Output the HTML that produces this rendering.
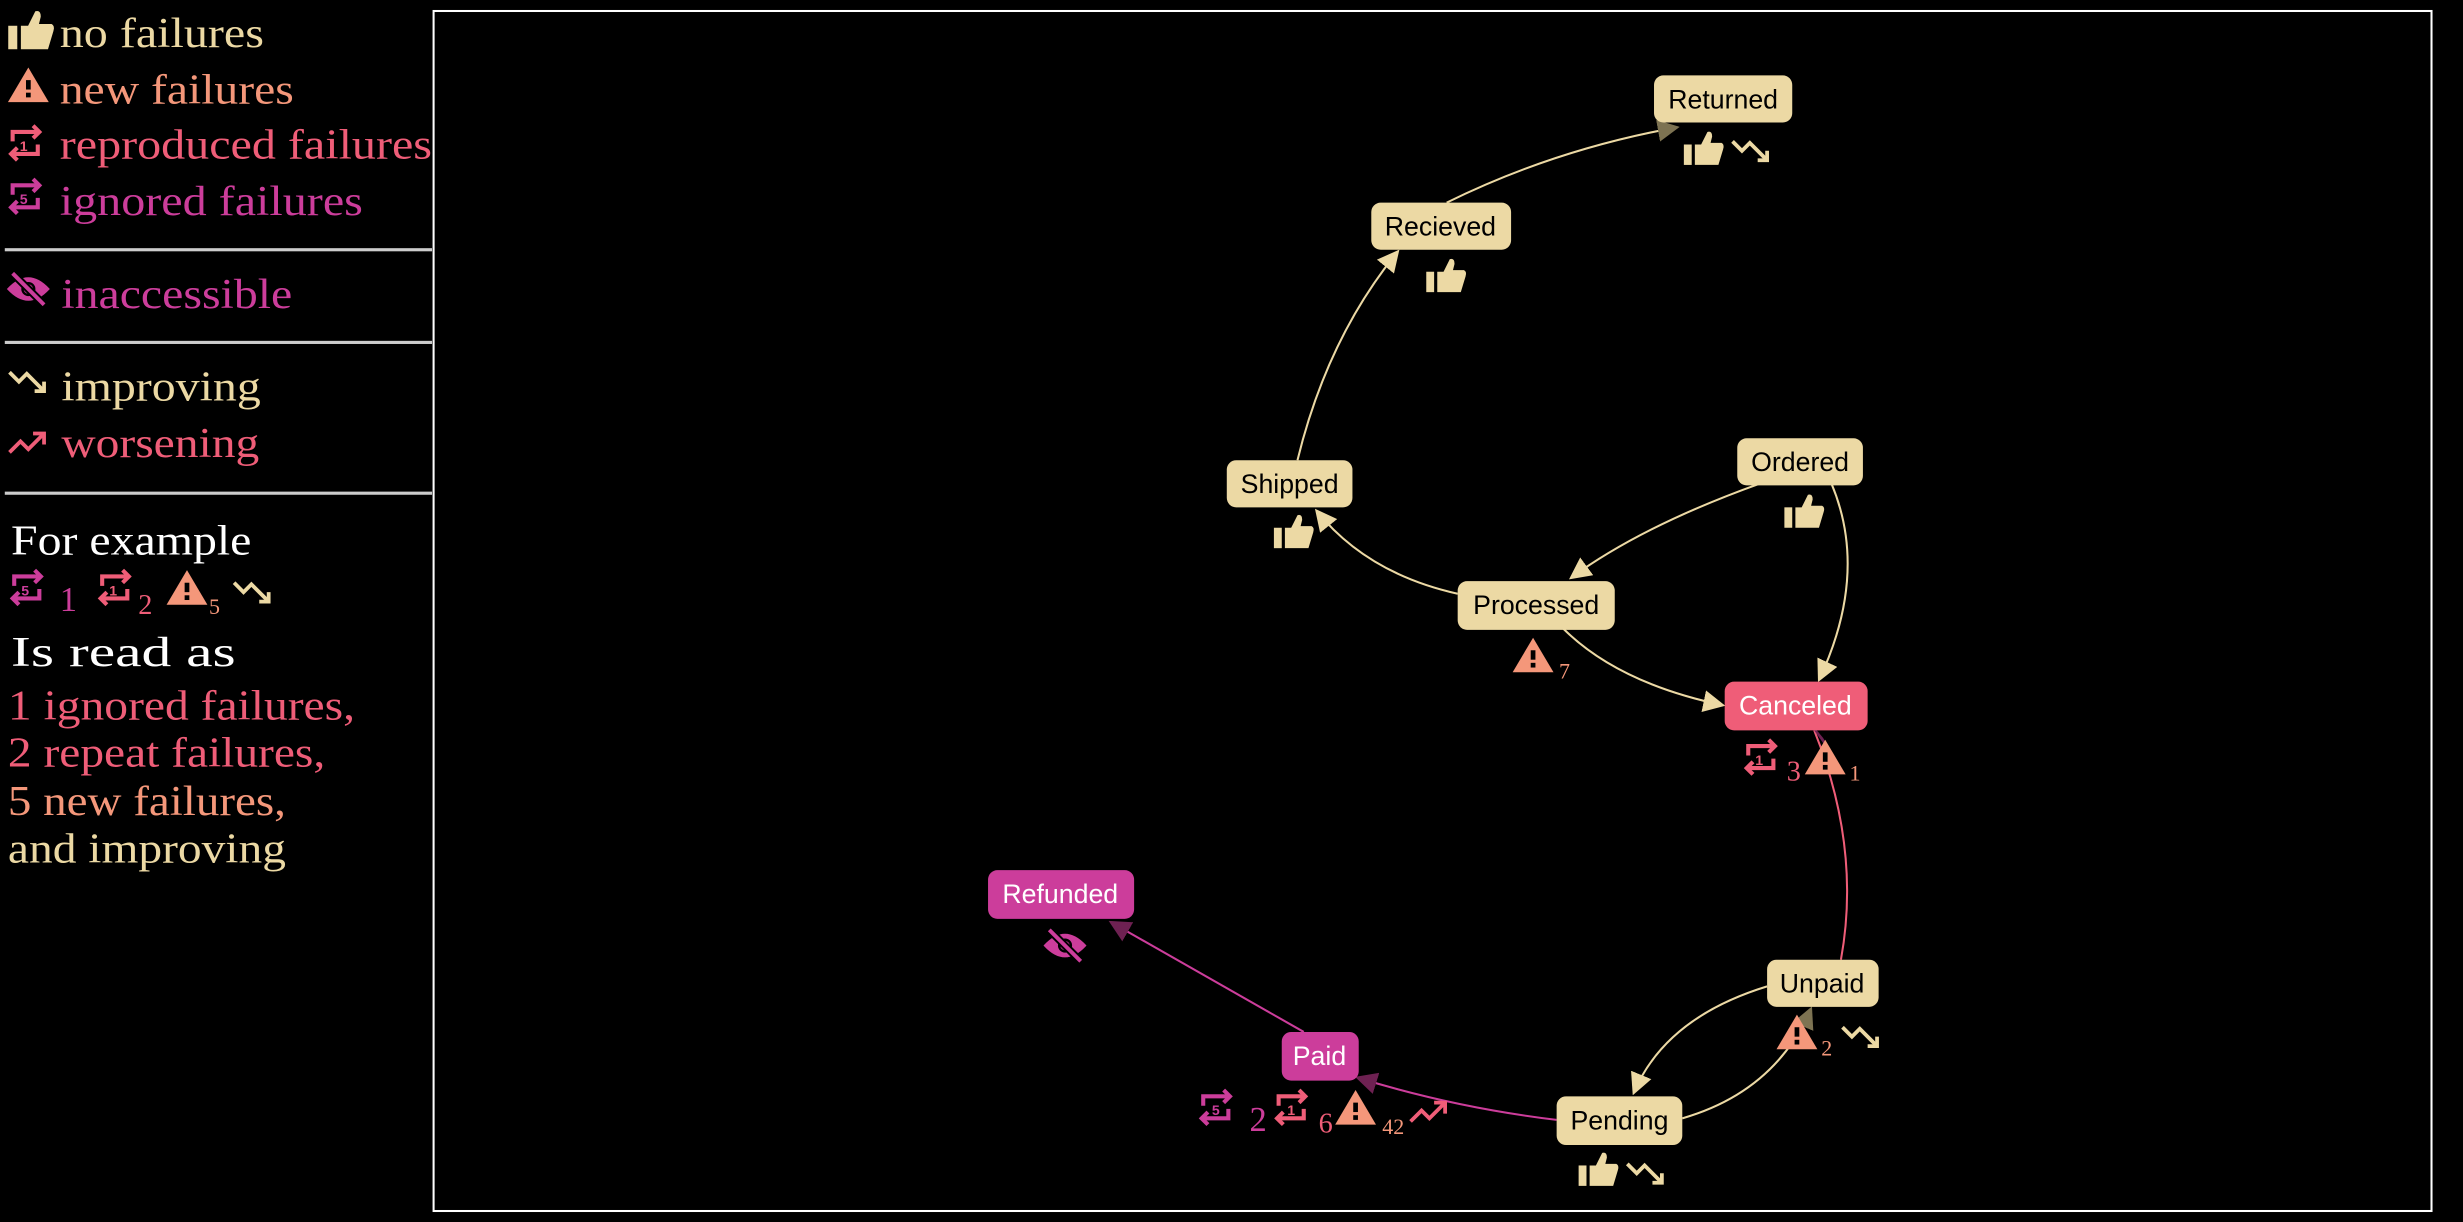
<!DOCTYPE html>
<html><head><meta charset="utf-8"><style>
html,body{margin:0;padding:0;background:#000;width:2463px;height:1222px;overflow:hidden}
svg{display:block}
.lg{font-family:"Liberation Serif",serif;font-size:27px}
.nd{font-family:"Liberation Sans",sans-serif;font-size:17px;text-anchor:middle}
.num{font-family:"Liberation Serif",serif}
</style></head><body>
<svg width="2463" height="1222" viewBox="0 0 1568 778" xmlns="http://www.w3.org/2000/svg">
<defs>
<g id="thumb"><rect x="-12" y="-4" width="5" height="13"/><path d="M-5,-4 L-1,-4 L3,-12 Q6,-13 6,-9 L5,-5 L12,-5 Q14,-4 13,-1 L10,9 L-5,9 Z"/></g>
<g id="warn"><path d="M0,-12 L13,10 L-13,10 Z"/><rect x="-1.5" y="-4" width="3" height="6" fill="#000"/><rect x="-1.5" y="4" width="3" height="3" fill="#000"/></g>
<g id="rep" fill="none" stroke-width="2.6"><path d="M-8,0 L-8,-6 L8,-6"/><path d="M5,-10 L9,-6 L5,-2"/><path d="M8,2 L8,8 L-8,8"/><path d="M-5,4 L-9,8 L-5,12"/></g>
<g id="imp" fill="none" stroke-width="2.4"><path d="M-12,-6 L-6,0 L-1,-5 L9,5"/><path d="M4,6 L10,6 L10,0"/></g>
<g id="wor" fill="none" stroke-width="2.4"><path d="M-12,6 L-5,-1 L0,4 L9,-5"/><path d="M3,-6 L10,-6 L10,1"/></g>
<g id="eye"><path d="M-13,0 Q0,-14 13,0 Q0,14 -13,0 Z"/><circle r="5" fill="#000"/><circle r="2.5"/><path d="M-10,-10 L10,10" stroke="#000" stroke-width="5"/><path d="M-10,-10 L10,10" stroke-width="2.5"/></g>
<marker id="ab" viewBox="0 0 10 10" refX="9" refY="5" markerWidth="14" markerHeight="14" markerUnits="userSpaceOnUse" orient="auto"><path d="M0,0 L10,5 L0,10 Z" fill="#ecd9a4"/></marker>
<marker id="ad" viewBox="0 0 10 10" refX="9" refY="5" markerWidth="14" markerHeight="14" markerUnits="userSpaceOnUse" orient="auto"><path d="M0,0 L10,5 L0,10 Z" fill="#7d7352"/></marker>
<marker id="am" viewBox="0 0 10 10" refX="9" refY="5" markerWidth="14" markerHeight="14" markerUnits="userSpaceOnUse" orient="auto"><path d="M0,0 L10,5 L0,10 Z" fill="#6e2152"/></marker>
</defs>

<!-- legend -->
<g class="lg" lengthAdjust="spacingAndGlyphs">
<use href="#thumb" x="19" y="21" fill="#ecd9a4" transform="translate(19,21) scale(1.15) translate(-19,-21)"/><text x="38" y="30" fill="#ecd9a4" textLength="130" lengthAdjust="spacingAndGlyphs">no failures</text>
<use href="#warn" x="18" y="55" fill="#f4977a"/><text x="38" y="66" fill="#f4977a" textLength="149" lengthAdjust="spacingAndGlyphs">new failures</text>
<use href="#rep" x="16" y="90" stroke="#ef5d78"/><text x="15" y="96" font-size="9" fill="#ef5d78" font-family="Liberation Sans" font-weight="bold" text-anchor="middle">1</text><text x="38" y="101" fill="#ef5d78" textLength="237" lengthAdjust="spacingAndGlyphs">reproduced failures</text>
<use href="#rep" x="16" y="124" stroke="#cc3d9b"/><text x="15" y="130" font-size="9" fill="#cc3d9b" font-family="Liberation Sans" font-weight="bold" text-anchor="middle">5</text><text x="38" y="137" fill="#cc3d9b" textLength="193" lengthAdjust="spacingAndGlyphs">ignored failures</text>
<rect x="3" y="158" width="272" height="2" fill="#ccc"/>
<use href="#eye" x="18" y="184" fill="#cc3d9b" stroke="#cc3d9b"/><text x="39" y="196" fill="#cc3d9b" textLength="147" lengthAdjust="spacingAndGlyphs">inaccessible</text>
<rect x="3" y="217" width="272" height="2" fill="#ccc"/>
<use href="#imp" x="18" y="243" stroke="#ecd9a4"/><text x="39" y="255" fill="#ecd9a4" textLength="127" lengthAdjust="spacingAndGlyphs">improving</text>
<use href="#wor" x="18" y="282" stroke="#ef5d78"/><text x="39" y="291" fill="#ef5d78" textLength="126" lengthAdjust="spacingAndGlyphs">worsening</text>
<rect x="3" y="313" width="272" height="2" fill="#ccc"/>
<text x="7" y="353" fill="#fff" textLength="153" lengthAdjust="spacingAndGlyphs">For example</text>
<use href="#rep" x="17" y="373" stroke="#cc3d9b"/><text x="16" y="379" font-size="9" fill="#cc3d9b" font-family="Liberation Sans" font-weight="bold" text-anchor="middle">5</text>
<text x="38" y="389" fill="#cc3d9b" font-size="22">1</text>
<use href="#rep" x="73" y="373" stroke="#ef5d78"/><text x="72" y="379" font-size="9" fill="#ef5d78" font-family="Liberation Sans" font-weight="bold" text-anchor="middle">1</text>
<text x="88" y="391" fill="#ef5d78" font-size="18">2</text>
<use href="#warn" x="119" y="375" fill="#f4977a"/><text x="133" y="391" fill="#f4977a" font-size="14">5</text>
<use href="#imp" x="161" y="377" stroke="#ecd9a4"/>
<text x="7" y="424" fill="#fff" textLength="143" lengthAdjust="spacingAndGlyphs">Is read as</text>
<text x="5" y="458" fill="#ef5d78" textLength="221" lengthAdjust="spacingAndGlyphs">1 ignored failures,</text>
<text x="5" y="488" fill="#ef5d78" textLength="202" lengthAdjust="spacingAndGlyphs">2 repeat failures,</text>
<text x="5" y="519" fill="#f4977a" textLength="177" lengthAdjust="spacingAndGlyphs">5 new failures,</text>
<text x="5" y="549" fill="#ecd9a4" textLength="177" lengthAdjust="spacingAndGlyphs">and improving</text>
</g>

<rect x="276" y="7" width="1272" height="764" fill="none" stroke="#fff" stroke-width="1.3"/>

<!-- edges -->
<g fill="none" stroke-width="1.3">
<path d="M921,129 Q990,95 1068,81" stroke="#ecd9a4" marker-end="url(#ad)"/>
<path d="M826,293 Q845,215 890,160" stroke="#ecd9a4" marker-end="url(#ab)"/>
<path d="M928,378 Q870,365 838,325" stroke="#ecd9a4" marker-end="url(#ab)"/>
<path d="M1120,308 Q1045,335 1000,368" stroke="#ecd9a4" marker-end="url(#ab)"/>
<path d="M1166,308 Q1190,365 1158,433" stroke="#ecd9a4" marker-end="url(#ab)"/>
<path d="M995,400 Q1030,435 1097,449" stroke="#ecd9a4" marker-end="url(#ab)"/>
<path d="M1172,611 Q1185,540 1155,465" stroke="#ef5d78"/>
<path d="M1160,470 L1155,464 L1165,478 Z" fill="#6e2152" stroke="#6e2152"/>
<path d="M1125,628 Q1060,648 1040,696" stroke="#ecd9a4" marker-end="url(#ab)"/>
<path d="M1071,712 Q1130,695 1153,642" stroke="#ecd9a4" marker-end="url(#ad)"/>
<path d="M991,713 Q925,705 864,686" stroke="#cc3d9b" marker-end="url(#am)"/>
<path d="M830,657 L707,587" stroke="#cc3d9b" marker-end="url(#am)"/>
</g>

<!-- nodes -->
<g class="nd">
<rect x="1053" y="48" width="88" height="30" rx="6" fill="#ecd9a4"/><text x="1097" y="69">Returned</text>
<use href="#thumb" x="1084" y="96" fill="#ecd9a4"/><use href="#imp" x="1115" y="96" stroke="#ecd9a4"/>
<rect x="873" y="129" width="89" height="30" rx="6" fill="#ecd9a4"/><text x="917" y="150">Recieved</text>
<use href="#thumb" x="920" y="177" fill="#ecd9a4"/>
<rect x="781" y="293" width="80" height="30" rx="6" fill="#ecd9a4"/><text x="821" y="314">Shipped</text>
<use href="#thumb" x="823" y="340" fill="#ecd9a4"/>
<rect x="1106" y="279" width="80" height="30" rx="6" fill="#ecd9a4"/><text x="1146" y="300">Ordered</text>
<use href="#thumb" x="1148" y="327" fill="#ecd9a4"/>
<rect x="928" y="370" width="100" height="31" rx="6" fill="#ecd9a4"/><text x="978" y="391">Processed</text>
<use href="#warn" x="976" y="418" fill="#f4977a"/><text x="996" y="432" fill="#f4977a" class="num" font-size="14">7</text>
<rect x="1098" y="434" width="91" height="31" rx="6" fill="#ef5d78"/><text x="1143" y="455" fill="#fff">Canceled</text>
<use href="#rep" x="1121" y="481" stroke="#ef5d78"/><text x="1120" y="487" font-size="9" fill="#ef5d78" font-weight="bold">1</text>
<text x="1142" y="497" fill="#ef5d78" class="num" font-size="18">3</text>
<use href="#warn" x="1162" y="483" fill="#f4977a"/><text x="1181" y="497" fill="#f4977a" class="num" font-size="14">1</text>
<rect x="1125" y="611" width="71" height="30" rx="6" fill="#ecd9a4"/><text x="1160" y="632">Unpaid</text>
<use href="#warn" x="1144" y="658" fill="#f4977a"/><text x="1163" y="672" fill="#f4977a" class="num" font-size="14">2</text>
<use href="#imp" x="1185" y="660" stroke="#ecd9a4"/>
<rect x="991" y="698" width="80" height="31" rx="6" fill="#ecd9a4"/><text x="1031" y="719">Pending</text>
<use href="#thumb" x="1017" y="746" fill="#ecd9a4"/><use href="#imp" x="1048" y="747" stroke="#ecd9a4"/>
<rect x="816" y="657" width="49" height="31" rx="6" fill="#cc3d9b"/><text x="840" y="678" fill="#fff">Paid</text>
<use href="#rep" x="774" y="704" stroke="#cc3d9b"/><text x="774" y="710" font-size="9" fill="#cc3d9b" font-weight="bold">5</text>
<text x="801" y="720" fill="#cc3d9b" class="num" font-size="22">2</text>
<use href="#rep" x="822" y="704" stroke="#ef5d78"/><text x="822" y="710" font-size="9" fill="#ef5d78" font-weight="bold">1</text>
<text x="844" y="721" fill="#ef5d78" class="num" font-size="18">6</text>
<use href="#warn" x="863" y="706" fill="#f4977a"/><text x="887" y="722" fill="#f4977a" class="num" font-size="14">42</text>
<use href="#wor" x="910" y="708" stroke="#ef5d78"/>
<rect x="629" y="554" width="93" height="31" rx="6" fill="#cc3d9b"/><text x="675" y="575" fill="#fff">Refunded</text>
<use href="#eye" x="678" y="602" fill="#cc3d9b" stroke="#cc3d9b"/>
</g>
</svg>
</body></html>
